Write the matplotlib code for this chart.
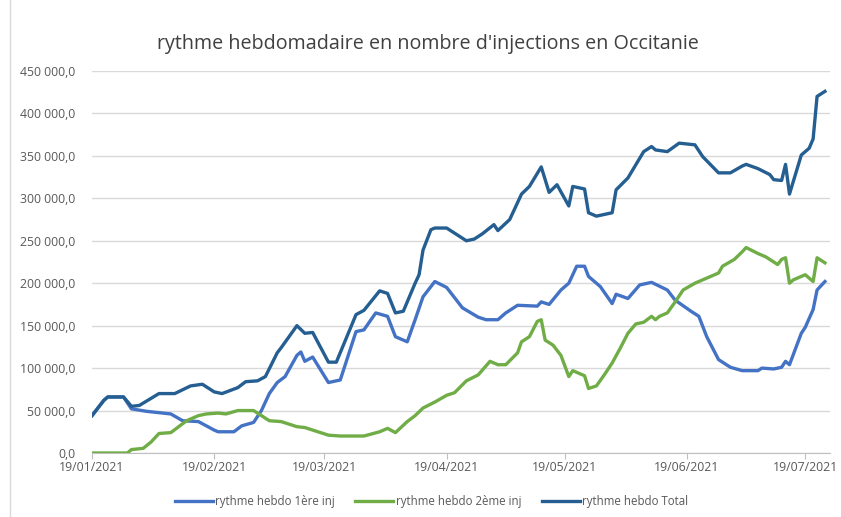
import numpy as np
import matplotlib
matplotlib.use("Agg")
import matplotlib.pyplot as plt
import matplotlib.dates as mdates
from matplotlib.ticker import FuncFormatter
from matplotlib.lines import Line2D

plt.rcParams['font.family'] = ['Open Sans', 'DejaVu Sans']

start = np.datetime64('2021-01-19')

# rythme hebdo 1ere inj (days after 19/01/2021, weekly injections)
jours_1ere = [0, 3, 4, 8, 10, 14, 20, 23, 27, 31, 32, 36, 38, 41, 43, 45, 47, 49, 52, 53,
              54, 56, 60, 63, 67, 69, 72, 75, 77, 80, 82, 84, 87, 90, 94, 98, 100, 103, 105, 108,
              113, 114, 116, 119, 121, 123, 125, 126, 129, 132, 133, 136, 139, 142, 146, 148, 152, 154, 156, 159,
              162, 165, 169, 170, 173, 175, 176, 177, 180, 181, 183, 184, 186]
val_1ere = [44000, 62000, 66000, 66000, 52000, 49000, 46000, 38000, 37000, 27000, 25000, 25000, 32000, 36000, 50000, 70000, 83000, 90000, 115000, 119000,
            108000, 113000, 83000, 86000, 143000, 145000, 165000, 161000, 137000, 131000, 157000, 184000, 202000, 195000, 171000, 160000, 157000, 157000, 165000, 174000,
            173000, 178000, 175000, 192000, 200000, 220000, 220000, 208000, 196000, 176000, 187000, 182000, 198000, 201000, 192000, 180000, 167000, 161000, 137000, 110000,
            101000, 97000, 97000, 100000, 99000, 101000, 108000, 104000, 141000, 148000, 169000, 192000, 202000]

# rythme hebdo 2eme inj
jours_2eme = [0, 9, 10, 13, 15, 17, 20, 22, 24, 27, 29, 32, 34, 37, 41, 43, 45, 48, 52, 54,
              60, 63, 69, 73, 75, 77, 80, 82, 84, 87, 90, 92, 95, 98, 101, 103, 105, 108, 109, 111,
              113, 114, 115, 117, 119, 121, 122, 125, 126, 128, 130, 132, 134, 136, 138, 140, 142, 143, 144, 146,
              148, 150, 153, 156, 159, 160, 163, 165, 166, 169, 171, 174, 175, 176, 177, 178, 181, 183, 184, 186]
val_2eme = [0, 0, 4000, 5500, 13000, 23000, 24000, 31000, 38000, 44000, 46000, 47000, 46000, 50000, 50000, 44000, 38000, 37000, 31000, 30000,
            21000, 20000, 20000, 25000, 29000, 24000, 37000, 44000, 53000, 60000, 68000, 71000, 85000, 92000, 108000, 104000, 104000, 118000, 131000, 137000,
            155000, 157000, 133000, 127000, 115000, 90000, 97000, 91000, 76000, 79000, 92000, 106000, 123000, 141000, 152000, 154000, 161000, 157000, 161000, 165000,
            178000, 192000, 200000, 206000, 212000, 220000, 228000, 237000, 242000, 235000, 231000, 222000, 228000, 230000, 200000, 204000, 210000, 202000, 230000, 224000]

# rythme hebdo Total
jours_total = [0, 3, 4, 8, 10, 12, 17, 21, 25, 28, 31, 33, 37, 39, 42, 44, 47, 48, 52, 54,
               56, 60, 62, 67, 69, 73, 75, 77, 79, 82, 83, 84, 86, 87, 90, 95, 97, 99, 102, 103,
               106, 109, 111, 114, 116, 118, 121, 122, 125, 126, 128, 132, 133, 136, 140, 142, 143, 146, 149, 153,
               155, 159, 162, 165, 166, 169, 172, 173, 175, 176, 177, 180, 182, 183, 184, 186]
val_total = [44000, 62000, 66000, 66000, 55000, 56000, 70000, 70000, 79000, 81000, 72000, 70000, 77000, 84000, 85000, 90000, 118000, 124000, 150000, 141000,
             142000, 107000, 107000, 163000, 168000, 191000, 188000, 165000, 167000, 200000, 210000, 239000, 263000, 265000, 265000, 250000, 252000, 258000, 269000, 262000,
             275000, 305000, 314000, 337000, 307000, 316000, 291000, 314000, 311000, 283000, 279000, 283000, 310000, 324000, 355000, 361000, 357000, 355000, 365000, 363000,
             349000, 330000, 330000, 338000, 340000, 335000, 328000, 322000, 321000, 340000, 305000, 351000, 359000, 370000, 420000, 426000]

tick_dates = ['2021-01-19', '2021-02-19', '2021-03-19', '2021-04-19', '2021-05-19', '2021-06-19', '2021-07-19']

fig = plt.figure(figsize=(8.41, 5.17), dpi=100)
ax = fig.add_axes([0.1094, 0.1238, 0.8776, 0.7389])

d1 = start + np.array(jours_1ere).astype('timedelta64[D]')
d2 = start + np.array(jours_2eme).astype('timedelta64[D]')
dt = start + np.array(jours_total).astype('timedelta64[D]')

ax.plot(d1, val_1ere, color='#4472C4', lw=2.4, label='rythme hebdo 1ère inj', solid_joinstyle='round')
ax.plot(d2, val_2eme, color='#70AD47', lw=2.4, label='rythme hebdo 2ème inj', solid_joinstyle='round')
ax.plot(dt, val_total, color='#255E91', lw=2.4, label='rythme hebdo Total', solid_joinstyle='round')

x0 = mdates.date2num(start)
ax.set_xlim(x0, x0 + 187.3)
ax.set_ylim(0, 450000)
ax.set_yticks(np.arange(0, 450001, 50000))
ax.set_xticks([mdates.date2num(np.datetime64(d)) for d in tick_dates])
ax.xaxis.set_major_formatter(mdates.DateFormatter('%d/%m/%Y'))
ax.yaxis.set_major_formatter(FuncFormatter(lambda v, p: f"{v:,.1f}".replace(",", " ").replace(".", ",")))

ax.grid(axis='y', color='#d9d9d9', lw=1)
ax.set_axisbelow(True)
for s in ['top', 'right', 'left']:
    ax.spines[s].set_visible(False)
ax.spines['bottom'].set_color('#bfbfbf')
ax.tick_params(axis='y', length=0, pad=12, labelsize=8.8, labelcolor='#595959')
ax.tick_params(axis='x', length=4, color='#bfbfbf', pad=2, labelsize=8.8, labelcolor='#595959')

fig.suptitle("rythme hebdomadaire en nombre d'injections en Occitanie", x=0.509, y=0.935,
             fontsize=14.2, color='#404040')

ax.legend(loc='upper center', bbox_to_anchor=(0.46, -0.082), ncol=3, frameon=False,
          fontsize=8.3, handlelength=3.3, handletextpad=0.2, columnspacing=1.8, labelcolor='#595959')

fig.add_artist(Line2D([10 / 841, 10 / 841], [0, 1], color='#d9d9d9', lw=1))

fig.savefig("out.png", dpi=100)
